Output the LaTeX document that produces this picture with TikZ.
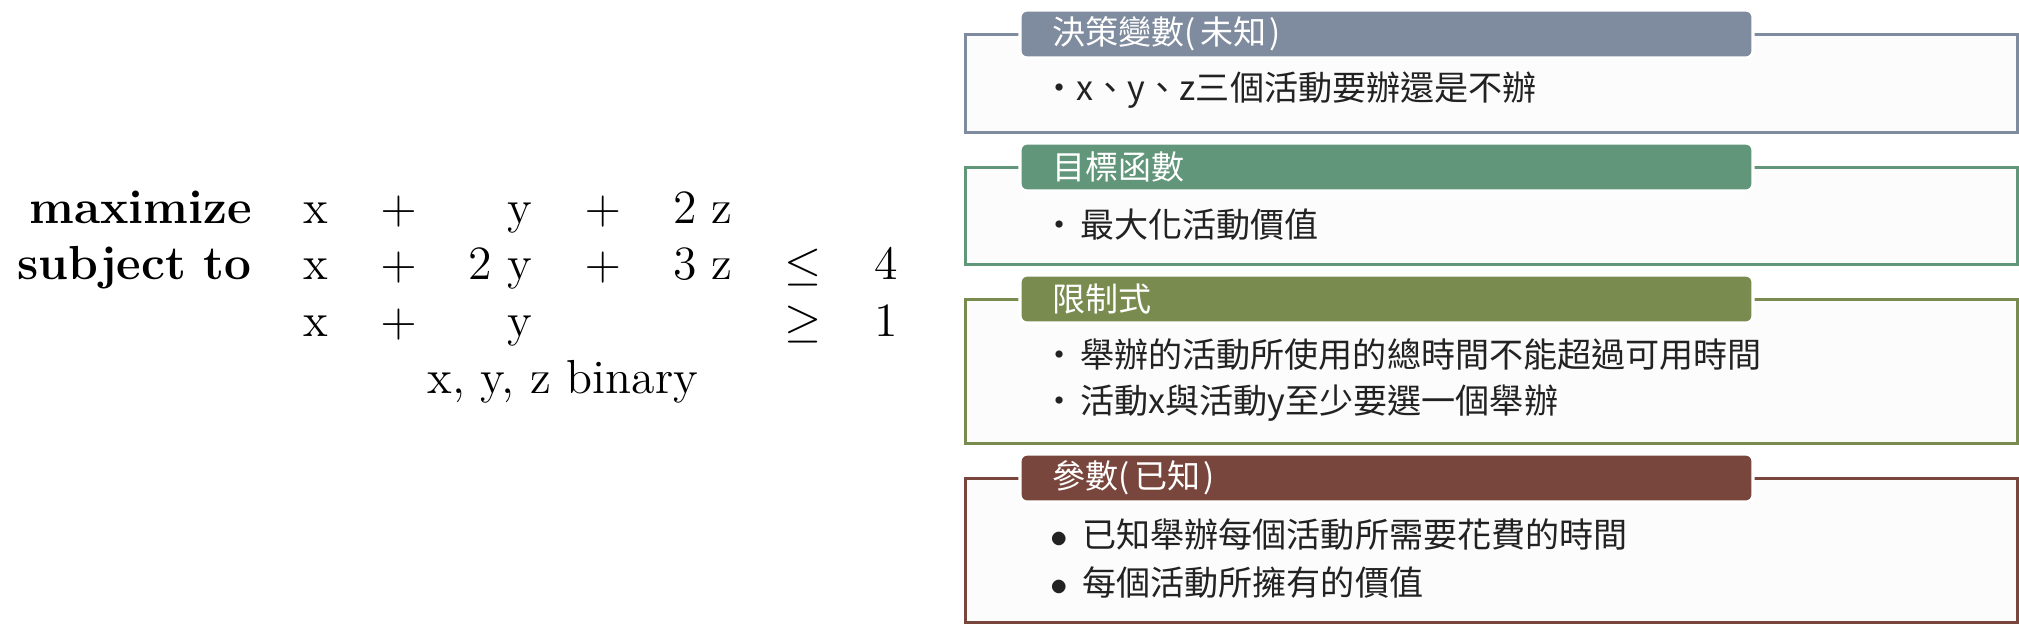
\RequirePackage{fix-cm}
\documentclass[tikz,border=0pt]{standalone}
\usepackage{fontspec}
\usepackage{amsmath}
\usepackage{xcolor}
\usepackage{tikz}
\usetikzlibrary{positioning}
\newfontfamily\cjk{Noto Sans CJK TC}
\definecolor{slate}{HTML}{7F8B9E}
\definecolor{sage}{HTML}{62967A}
\definecolor{moss}{HTML}{7A8B50}
\definecolor{brick}{HTML}{79463D}
\definecolor{paper}{HTML}{FCFCFC}
\definecolor{ink}{HTML}{222222}
\tikzstyle{panel} = [draw, line width=0.85pt, fill=paper, minimum width=10.52cm, inner sep=0pt]
\tikzstyle{headbar} = [rounded corners=0.07cm, draw=white, line width=0.9pt, minimum height=0.48cm, text width=6.69cm, inner xsep=0.32cm, inner ysep=0pt, align=left, text=white, font=\cjk\fontsize{9.4}{10}\selectfont]
\tikzstyle{itemtext} = [anchor=west, inner sep=0pt, text=ink, font=\cjk\fontsize{9.7}{12}\selectfont]
\newcommand{\bigdot}{$\bullet$\hspace{4pt}}

\begin{document}
\begin{tikzpicture}
        \useasboundingbox (0,0) rectangle (20.19,-6.31);
        % Left: the binary program
        \node (lp) [anchor=base west, inner sep=0pt, font=\fontsize{13.6}{16.2}\selectfont] at (0.17,-2.23) {%
            \setlength{\tabcolsep}{7.4pt}%
            \begin{tabular}[t]{@{}rrcrcrcr@{}}
                \textbf{maximize} & x & $+$ & y & $+$ & 2 z & & \\
                \textbf{subject to} & x & $+$ & 2 y & $+$ & 3 z & $\leq$ & 4 \\
                & x & $+$ & y & & & $\geq$ & 1 \\
                & \multicolumn{6}{c}{x, y, z binary} & \\
            \end{tabular}};

        % Right: decision variables
        \node[panel, draw=slate, minimum height=0.98cm] (dv_box) at (14.91,-0.83) {};
        \node[headbar, fill=slate] (dv_head) at (13.865,-0.34) {決策變數(\hspace{0.15em}未知\hspace{0.1em})};
        \node[itemtext] (dv_item) at (10.42,-0.90) {•x、y、z三個活動要辦還是不辦};

        % Objective
        \node[panel, draw=sage, minimum height=0.97cm] (obj_box) at (14.91,-2.155) {};
        \node[headbar, fill=sage] (obj_head) at (13.865,-1.67) {目標函數};
        \node[itemtext] (obj_item) at (10.42,-2.25) {•\hspace{0.1em}最大化活動價值};

        % Constraints
        \node[panel, draw=moss, minimum height=1.44cm] (con_box) at (14.91,-3.71) {};
        \node[headbar, fill=moss] (con_head) at (13.865,-2.99) {限制式};
        \node[itemtext] (con_a) at (10.42,-3.55) {•\hspace{0.1em}舉辦的活動所使用的總時間不能超過可用時間};
        \node[itemtext] (con_b) at (10.42,-4.03) {•\hspace{0.1em}活動x與活動y至少要選一個舉辦};

        % Parameters
        \node[panel, draw=brick, minimum height=1.44cm] (par_box) at (14.91,-5.50) {};
        \node[headbar, fill=brick] (par_head) at (13.865,-4.78) {參數(\hspace{0.15em}已知\hspace{0.1em})};
        \node[itemtext] (par_a) at (10.50,-5.35) {\bigdot 已知舉辦每個活動所需要花費的時間};
        \node[itemtext] (par_b) at (10.50,-5.82) {\bigdot 每個活動所擁有的價值};
    \end{tikzpicture}
\end{document}
